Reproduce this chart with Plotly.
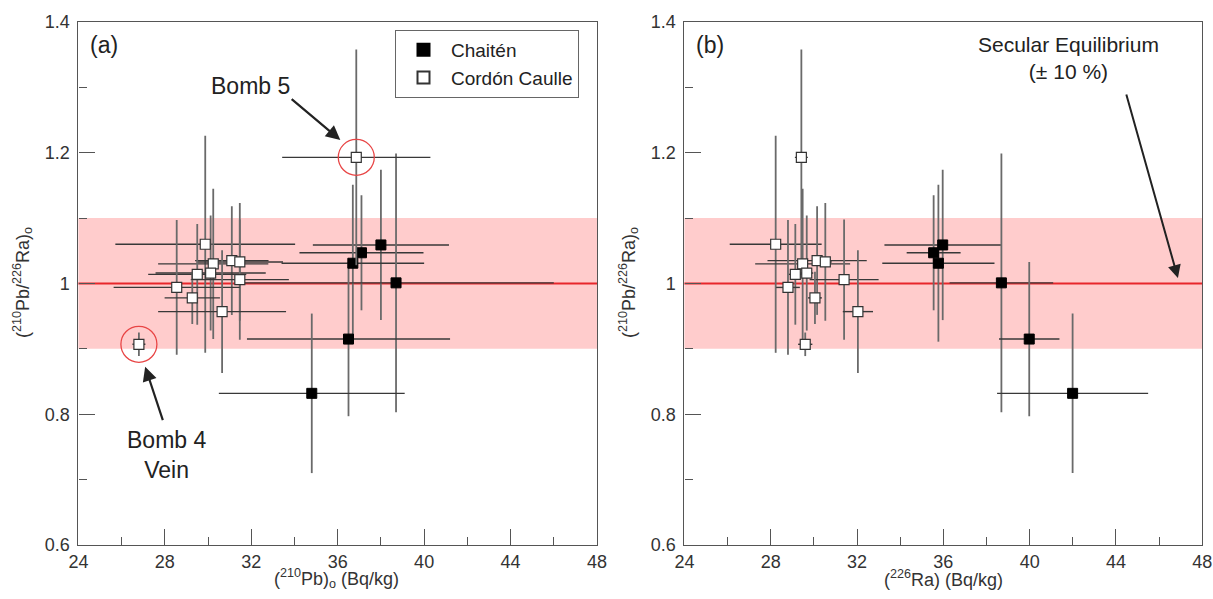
import plotly.graph_objects as go

# ---------------- data ----------------
# Chaitén
ch_ratio = [1.059, 1.047, 1.031, 1.001, 0.915, 0.832]
ch_ratio_err = [0.115, 0.088, 0.120, 0.198, 0.118, 0.122]
ch_pb = [38.0, 37.1, 36.7, 38.7, 36.5, 34.8]
ch_pb_err = [3.15, 2.87, 3.3, 7.3, 4.7, 4.3]
ch_ra = [35.97, 35.55, 35.77, 38.69, 39.98, 41.99]
ch_ra_err = [2.7, 1.25, 2.6, 2.4, 1.4, 3.5]

# Cordón Caulle (last two: Bomb 4 vein, Bomb 5)
cc_ratio = [1.060, 1.030, 1.035, 1.033, 1.014, 1.016, 1.006, 0.994, 0.978, 0.957, 0.907, 1.193]
cc_ratio_err = [0.166, 0.115, 0.083, 0.090, 0.077, 0.088, 0.092, 0.103, 0.040, 0.094, 0.018, 0.165]
cc_pb = [29.87, 30.24, 31.1, 31.47, 29.5, 30.12, 31.47, 28.55, 29.27, 30.65, 26.8, 36.86]
cc_pb_err = [4.16, 2.55, 1.7, 2.0, 2.27, 2.55, 2.27, 2.92, 1.28, 2.96, 0.3, 3.43]
cc_ra = [28.23, 29.48, 30.15, 30.53, 29.14, 29.67, 31.4, 28.8, 30.05, 32.04, 29.6, 29.42]
cc_ra_err = [2.13, 2.2, 2.3, 0.3, 0.3, 0.3, 1.6, 0.55, 0.32, 0.7, 0.33, 0.3]

# highlighted samples on panel (a): Bomb 5 and Bomb 4 vein
hl_pb = [36.86, 26.8]
hl_ratio = [1.193, 0.907]

EQ = 1.0
EQ_LOW = 0.9
EQ_HIGH = 1.1

X_TICKS = [24, 28, 32, 36, 40, 44, 48]
Y_TICKS = [0.6, 0.8, 1.0, 1.2, 1.4]
Y_TICKTEXT = ["0.6", "0.8", "1", "1.2", "1.4"]

# ---------------- styling ----------------
FONT = "Arial, Liberation Sans, sans-serif"
TXT = "#222222"
EY = dict(type="data", thickness=1.8, width=0, color="#6a6a6a")
EX = dict(type="data", thickness=1.4, width=0, color="#383838")

# body margin is removed by post_script, so the figure fills the window
W, H = 1213, 599


def px(x):
    return x / W


def py(y):
    return 1 - y / H


fig = go.Figure()


def add_panel(xs_ch, xe_ch, xs_cc, xe_cc, xa, ya, legend):
    fig.add_trace(go.Scatter(
        x=xs_ch, y=ch_ratio, mode="markers", name="Chaitén",
        xaxis=xa, yaxis=ya, showlegend=legend, legendrank=1,
        marker=dict(symbol="square", size=10, color="black",
                    line=dict(color="black", width=1)),
        error_x=dict(array=xe_ch, **EX),
        error_y=dict(array=ch_ratio_err, **EY),
    ))
    fig.add_trace(go.Scatter(
        x=xs_cc, y=cc_ratio, mode="markers", name="Cordón Caulle",
        xaxis=xa, yaxis=ya, showlegend=legend, legendrank=2,
        marker=dict(symbol="square", size=10, color="white",
                    line=dict(color="#333333", width=1.2)),
        error_x=dict(array=xe_cc, **EX),
        error_y=dict(array=cc_ratio_err, **EY),
    ))


add_panel(ch_pb, ch_pb_err, cc_pb, cc_pb_err, "x", "y", True)
add_panel(ch_ra, ch_ra_err, cc_ra, cc_ra_err, "x2", "y2", False)

fig.add_trace(go.Scatter(
    x=hl_pb, y=hl_ratio, mode="markers", xaxis="x", yaxis="y",
    showlegend=False, hoverinfo="skip",
    marker=dict(symbol="circle-open", size=36, color="#E84545",
                line=dict(width=1.3, color="#E84545")),
))

# band + equilibrium line
shapes = []
for xr, yr in [("x", "y"), ("x2", "y2")]:
    shapes.append(dict(type="rect", xref=f"{xr} domain", yref=yr, x0=0, x1=1,
                       y0=EQ_LOW, y1=EQ_HIGH, fillcolor="rgb(255,204,204)",
                       line=dict(width=0), layer="below"))
    shapes.append(dict(type="line", xref=f"{xr} domain", yref=yr, x0=0, x1=1,
                       y0=EQ, y1=EQ, line=dict(color="#E8262B", width=2),
                       layer="below"))

axis_common = dict(
    showgrid=False, zeroline=False, showline=True, linecolor="#555555",
    linewidth=1.2, mirror=True, ticks="inside", ticklen=16, tickwidth=1,
    tickcolor="#555555", automargin=False,
    tickfont=dict(family=FONT, size=18, color="#333333"),
)
xaxis_common = dict(axis_common, range=[24, 48], tickvals=X_TICKS,
                    ticklabelstandoff=0,
                    minor=dict(dtick=2, ticks="inside", ticklen=8,
                               tickcolor="#555555", tickwidth=1))
yaxis_common = dict(axis_common, range=[0.6, 1.4], tickvals=Y_TICKS,
                    ticktext=Y_TICKTEXT, ticklabelstandoff=4,
                    minor=dict(dtick=0.1, ticks="inside", ticklen=8,
                               tickcolor="#555555", tickwidth=1))

xd1 = [px(78.4), px(597)]
xd2 = [px(684.4), px(1202.3)]
yd = [py(545), py(22)]

C = dict(xanchor="center", yanchor="middle", showarrow=False)
ytitle = "(<sup>210</sup>Pb/<sup>226</sup>Ra)<sub>o</sub>"
annotations = [
    dict(text=ytitle, x=px(22), y=py(283), xref="paper", yref="paper",
         textangle=-90, font=dict(family=FONT, size=18, color="#333"), **C),
    dict(text=ytitle, x=px(628), y=py(283), xref="paper", yref="paper",
         textangle=-90, font=dict(family=FONT, size=18, color="#333"), **C),
    dict(text="(<sup>210</sup>Pb)<sub>o</sub> (Bq/kg)", x=px(336), y=py(578),
         xref="paper", yref="paper",
         font=dict(family=FONT, size=18, color="#333"), **C),
    dict(text="(<sup>226</sup>Ra) (Bq/kg)", x=px(943), y=py(578),
         xref="paper", yref="paper",
         font=dict(family=FONT, size=18, color="#333"), **C),
    dict(text="(a)", x=px(104), y=py(45), xref="paper", yref="paper",
         font=dict(family=FONT, size=23, color=TXT), **C),
    dict(text="(b)", x=px(710), y=py(45), xref="paper", yref="paper",
         font=dict(family=FONT, size=23, color=TXT), **C),
    # labels
    dict(text="Bomb 5", x=31.96, y=1.302, xref="x", yref="y",
         font=dict(family=FONT, size=23, color=TXT), **C),
    dict(text="Bomb 4<br>Vein", x=28.09, y=0.737, xref="x", yref="y",
         font=dict(family=FONT, size=23, color=TXT), **C),
    dict(text="Secular Equilibrium<br>(± 10 %)", x=41.78, y=1.345, xref="x2", yref="y2",
         font=dict(family=FONT, size=21, color=TXT), **C),
    # arrows
    dict(text="", x=36.12, y=1.2195, ax=33.8, ay=1.284, xref="x", yref="y",
         axref="x", ayref="y", showarrow=True, arrowhead=2, arrowsize=1.3,
         arrowwidth=2.2, arrowcolor="#222"),
    dict(text="", x=27.09, y=0.8727, ax=27.93, ay=0.7886, xref="x", yref="y",
         axref="x", ayref="y", showarrow=True, arrowhead=2, arrowsize=1.3,
         arrowwidth=2.2, arrowcolor="#222"),
    dict(text="", x=46.87, y=1.0084, ax=44.46, ay=1.2914, xref="x2", yref="y2",
         axref="x2", ayref="y2", showarrow=True, arrowhead=2, arrowsize=1.3,
         arrowwidth=2.0, arrowcolor="#222"),
]

fig.update_layout(
    width=W, height=H, margin=dict(l=0, r=0, t=0, b=0, autoexpand=False),
    paper_bgcolor="white", plot_bgcolor="white",
    font=dict(family=FONT, color=TXT),
    xaxis=dict(xaxis_common, domain=xd1, anchor="y"),
    yaxis=dict(yaxis_common, domain=yd, anchor="x"),
    xaxis2=dict(xaxis_common, domain=xd2, anchor="y2"),
    yaxis2=dict(yaxis_common, domain=yd, anchor="x2"),
    shapes=shapes, annotations=annotations,
    legend=dict(x=px(395), y=py(30), xanchor="left", yanchor="top",
                bordercolor="#666666", borderwidth=1, bgcolor="white",
                font=dict(family=FONT, size=19, color=TXT),
                itemwidth=45, itemsizing="constant"),
    showlegend=True,
)

fig.write_html(
    "out.html",
    config={"displayModeBar": False},
    post_script="document.body.style.margin='0px';document.body.style.overflow='hidden';",
)
